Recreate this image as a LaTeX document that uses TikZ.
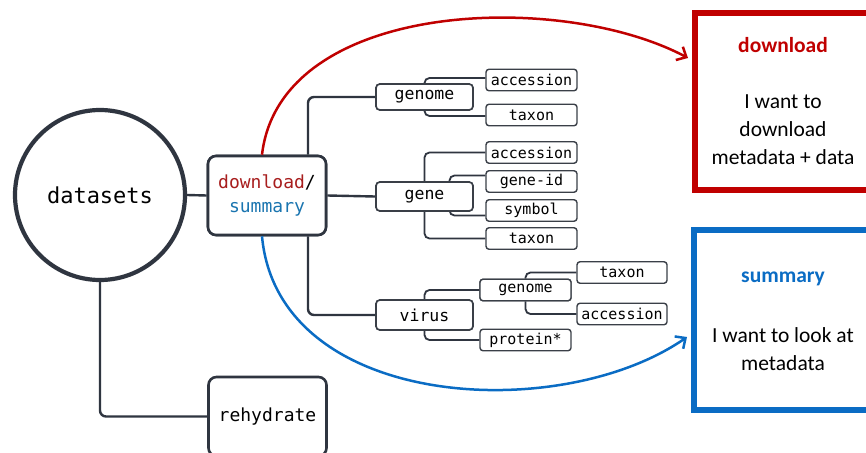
\documentclass[tikz,border=0pt]{standalone}
\usepackage{fontspec}
\setmonofont{DejaVu Sans Mono}
\newfontfamily\calib{Carlito}
\usetikzlibrary{arrows.meta,shapes.geometric}
\definecolor{ink}{HTML}{2F3540}
\definecolor{boxc}{HTML}{3A3F47}
\definecolor{dred}{HTML}{C00000}
\definecolor{tred}{HTML}{A81E1E}
\definecolor{dblue}{HTML}{0A6CC4}
\definecolor{tblue}{HTML}{1A75B0}
\tikzset{
  bigbox/.style={draw=ink, line width=2.6, rounded corners=8, fill=white, minimum width=118, minimum height=79, inner sep=0, font=\ttfamily\fontsize{18}{24}\selectfont, align=center},
  midbox/.style={draw=boxc, line width=1.6, rounded corners=4, fill=white, minimum width=97, inner sep=0, font=\ttfamily\fontsize{16.5}{20}\selectfont},
  leafbox/.style={draw=boxc, line width=1.4, rounded corners=3, fill=white, minimum width=91, minimum height=21.5, inner sep=0, font=\ttfamily\fontsize{15}{18}\selectfont},
  link/.style={draw=ink, line width=2.4, rounded corners=6},
  sublink/.style={draw=ink, line width=1.8, rounded corners=5},
  cardtitle/.style={font=\calib\bfseries\fontsize{21.5}{26}\selectfont, inner sep=0},
  cardtext/.style={font=\calib\fontsize{21.5}{28}\selectfont, align=center, inner sep=0},
  arrowc/.style={line width=2.5, -{Straight Barb[length=8,width=15,line width=2.5]}}
}
\begin{document}
\begin{tikzpicture}[x=1pt,y=-1pt]
\useasboundingbox (0,0) rectangle (866,452);
\clip (0,0) rectangle (866,452);
\fill[white] (0,0) rectangle (866,452);

% nodes
\node[circle, draw=ink, line width=4.2, minimum size=170, inner sep=0, font=\ttfamily\fontsize{22}{26}\selectfont] (ds) at (100,195) {datasets};
\node[bigbox] (dl) at (267,195.5) {\textcolor{tred}{download}/\\\textcolor{tblue}{summary}};
\node[bigbox] (rh) at (267.5,416.5) {rehydrate};

\node[midbox, minimum height=26] (gA) at (424.5,97) {genome};
\node[midbox, minimum height=29] (gB) at (424.5,196.5) {gene};
\node[midbox, minimum height=30] (vi) at (424.5,315) {virus};

\node[leafbox] (acc1) at (531.5,80) {accession};
\node[leafbox] (tax1) at (531.5,115) {taxon};
\node[leafbox] (acc2) at (531.5,152.5) {accession};
\node[leafbox] (gid) at (531.5,181.5) {gene-id};
\node[leafbox] (sym) at (531.5,210.5) {symbol};
\node[leafbox] (tax2) at (531.5,238.5) {taxon};
\node[leafbox] (vg) at (525.5,290) {genome};
\node[leafbox] (pr) at (525.5,340) {protein*};
\node[leafbox, minimum width=90] (vt) at (622,272.5) {taxon};
\node[leafbox, minimum width=90] (va) at (622,314) {accession};

% cards
\draw[dred, line width=6] (694.5,13) rectangle (885,190);
\draw[dblue, line width=6] (693.5,230) rectangle (885,410);
\node[cardtitle, text=dred] (dlt) at (783,45) {download};
\node[cardtext] (dlx) at (783,130) {I want to\\download\\metadata + data};
\node[cardtitle, text=dblue] (smt) at (783,279) {summary};
\node[cardtext] (smx) at (783,349) {I want to look at\\metadata};

% connectors
\coordinate (t1) at ([xshift=41]dl.north);
\coordinate (t2) at ([xshift=41]dl.south);
\draw[link] (ds.east) -- (dl.west);
\draw[link] (ds.south) |- (rh.west);
\draw[link] (t1) |- (gA.west);
\draw[link] (dl.east) -- (gB.west);
\draw[link] (t2) |- (vi.west);

\draw[sublink] (gA.north) |- ([yshift=2]acc1.west);
\draw[sublink] (gA.south) |- ([yshift=-1]tax1.west);
\draw[sublink] (gB.north) |- (acc2.west);
\draw[sublink] ([xshift=25]gB.center) |- ([yshift=6]gid.west);
\draw[sublink] ([xshift=25]gB.center) |- ([yshift=-5]sym.west);
\draw[sublink] (gB.south) |- (tax2.west);
\draw[sublink] (vi.north) |- (vg.west);
\draw[sublink] (vi.south) |- (pr.west);
\draw[sublink] (vg.north) |- (vt.west);
\draw[sublink] (vg.south) |- (va.west);

% redraw boxes on top of the links
\node[bigbox] at (dl) {\textcolor{tred}{download}/\\\textcolor{tblue}{summary}};
\node[midbox, minimum height=26] at (gA) {genome};
\node[midbox, minimum height=29] at (gB) {gene};
\node[midbox, minimum height=30] at (vi) {virus};
\node[leafbox] at (vg) {genome};

% arrows
\coordinate (rs) at ([xshift=-5]dl.north);
\coordinate (bs) at ([xshift=-5]dl.south);
\coordinate (re) at (688,58);
\coordinate (be) at (687,337);
\draw[arrowc, dred] (rs) .. controls (280,0) and (560,-10) .. (re);
\draw[arrowc, dblue] (bs) .. controls (278,410) and (560,425) .. (be);
\end{tikzpicture}
\end{document}
